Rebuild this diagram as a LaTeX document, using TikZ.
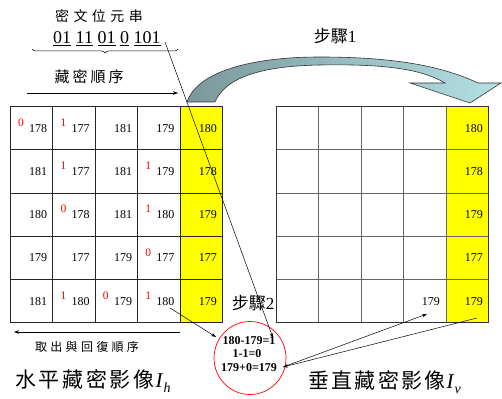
\documentclass[tikz,border=0pt]{standalone}
\usepackage{fontspec}
\setmainfont{Liberation Serif}
\newfontfamily\cjk{Noto Sans CJK TC}
\usetikzlibrary{arrows.meta,decorations.pathreplacing,shapes.geometric}
\definecolor{yel}{RGB}{255,255,0}
\definecolor{arrL}{RGB}{122,152,155}
\definecolor{arrR}{RGB}{180,224,228}
\begin{document}
\begin{tikzpicture}[x=1pt,y=-1pt,
  cellL/.style={draw=black!85,line width=0.9pt,minimum width=42.4pt,minimum height=43.2pt,inner sep=0pt,outer sep=0pt},
  cellR/.style={cellL,draw=black!60},
  num/.style={font=\fontsize{12}{12}\selectfont,inner sep=0pt},
  reddig/.style={font=\fontsize{11.5}{11.5}\selectfont,text=red,inner sep=0pt},
  lbl/.style={inner sep=0pt},
  arr/.style={-{Stealth[length=5pt,width=3.5pt]},line width=0.5pt},
  calc/.style={font=\fontsize{12}{12}\selectfont\bfseries,inner sep=0pt}]
\useasboundingbox (0,0) rectangle (502,398);

% grids
\foreach \r in {1,...,5}{
  \foreach \c in {1,...,5}{
    \ifnum\c=5
      \node[cellL,fill=yel] (L-\r-\c) at ({10.5+42.4*(\c-0.5)},{106.7+43.2*(\r-0.5)}) {};
      \node[cellR,fill=yel] (R-\r-\c) at ({276+42.5*(\c-0.5)},{106.7+43.2*(\r-0.5)}) {};
    \else
      \node[cellL,fill=white] (L-\r-\c) at ({10.5+42.4*(\c-0.5)},{106.7+43.2*(\r-0.5)}) {};
      \node[cellR,fill=white] (R-\r-\c) at ({276+42.5*(\c-0.5)},{106.7+43.2*(\r-0.5)}) {};
    \fi
  }
}
% outer border of right grid
\draw[line width=0.9pt,black!80] (R-1-1.north west) rectangle (R-5-5.south east);

% left numbers
\foreach \r/\c/\v in {1/1/178,1/2/177,1/3/181,1/4/179,1/5/180,
                      2/1/181,2/2/177,2/3/181,2/4/179,2/5/178,
                      3/1/180,3/2/178,3/3/181,3/4/180,3/5/179,
                      4/1/179,4/2/177,4/3/179,4/4/177,4/5/177,
                      5/1/181,5/2/180,5/3/179,5/4/180,5/5/179}{
  \node[num,anchor=east] (nL-\r-\c) at ([xshift=-5.5pt]L-\r-\c.east) {\v};
}
% red embedded bits
\foreach \r/\c/\b in {1/1/0,1/2/1,2/2/1,2/4/1,3/2/0,3/4/1,4/4/0,5/2/1,5/3/0,5/4/1}{
  \node[reddig] (b-\r-\c) at ([xshift=10.5pt,yshift=5.5pt]L-\r-\c.west) {\b};
}
% right numbers
\foreach \r/\v in {1/180,2/178,3/179,4/177,5/179}{
  \node[num,anchor=east] (nR-\r-5) at ([xshift=-5.5pt]R-\r-5.east) {\v};
}
\node[num,anchor=east] (nR-5-4) at ([xshift=-6pt]R-5-4.east) {179};

% top texts
\node[lbl,font=\fontsize{14}{14}\selectfont\cjk] (ct) at (99,16) {密\kern4.4pt 文\kern4.4pt 位\kern4.4pt 元\kern4.4pt 串};
\node[lbl,anchor=base west,font=\fontsize{18}{18}\selectfont] (bits) at (53,43.5)
  {\underline{01} \underline{11} \underline{01} \underline{0} \underline{101}};
\coordinate (brL) at (32,49);
\coordinate (brR) at (178,49);
\draw[line width=0.5pt,decorate,decoration={brace,amplitude=4pt,mirror}] (brL) -- (brR);
\node[lbl,font=\fontsize{15}{15}\selectfont\cjk] (order) at (89,77) {藏\kern3pt 密\kern3pt 順\kern3pt 序};
\coordinate (oa1) at (27,93);
\coordinate (oa2) at (178,93);
\draw[arr] (oa1) -- (oa2);

% big curved arrow
\path[draw=black!80,line width=0.6pt,left color=arrL,right color=arrR]
  (187,102) .. controls (197,72) and (250,57) .. (320,57)
  .. controls (390,57) and (440,65) .. (478,83)
  -- (501,83) -- (470,103) -- (410,83) -- (445,83)
  .. controls (420,68) and (380,64) .. (320,65)
  .. controls (260,66) and (225,78) .. (215,102) -- cycle;
\node[lbl,font=\fontsize{17}{17}\selectfont] (s1) at (335,36) {{\cjk 步驟}1};

% step 2 & ellipse
\node[lbl,font=\fontsize{17}{17}\selectfont] (s2) at (253,303) {{\cjk 步驟}2};
\node[draw=red,ellipse,line width=0.7pt,minimum width=72pt,minimum height=73pt,inner sep=0pt] (E) at (250,358) {};
\node[calc] (e1) at (249,341) {180-179=1};
\node[calc] (e2) at (247,354) {1-1=0};
\node[calc] (e3) at (249,368) {179+0=179};

% bottom texts
\coordinate (ra1) at (180,332);
\coordinate (ra2) at (14,332);
\draw[arr] (ra1) -- (ra2);
\node[lbl,font=\fontsize{12}{12}\selectfont\cjk] (rt) at (87,347) {取\kern3.3pt 出\kern3.3pt 與\kern3.3pt 回\kern3.3pt 復\kern3.3pt 順\kern3.3pt 序};
\node[lbl,anchor=west,font=\fontsize{21}{21}\selectfont] (th) at (15,381) {{\cjk 水\kern2.7pt 平\kern2.7pt 藏\kern2.7pt 密\kern2.7pt 影\kern2.7pt 像}\kern1pt\textit{I}\raisebox{-5pt}{\fontsize{14}{14}\selectfont\textit{h}}};
\node[lbl,anchor=west,font=\fontsize{21}{21}\selectfont] (tv) at (308,382) {{\cjk 垂\kern2.3pt 直\kern2.3pt 藏\kern2.3pt 密\kern2.3pt 影\kern2.3pt 像}\kern1pt\textit{I}\raisebox{-5pt}{\fontsize{14}{14}\selectfont\textit{v}}};

% connectors
\coordinate (p1) at (165,42);
\coordinate (p2) at (273,338);
\draw[arr] (p1) -- (p2);
\coordinate (q1) at (170,308);
\coordinate (q2) at (216,337);
\draw[arr] (q1) -- (q2);
\coordinate (u1) at (283,367);
\coordinate (u2) at (427,314);
\draw[arr] (u1) -- (u2);
\coordinate (w1) at (477,318);
\draw[arr] (w1) -- (u1);
\end{tikzpicture}
\end{document}
